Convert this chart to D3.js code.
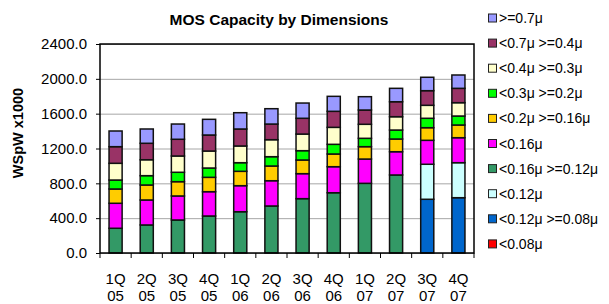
<!DOCTYPE html>
<html>
<head>
<meta charset="utf-8">
<script src="https://cdn.jsdelivr.net/npm/d3@7"></script>
<style>
    body { margin: 0; background: #fff; }
    svg { font-family: "Liberation Sans", Arial, sans-serif; }
    .grid line { stroke: #a6a6a6; stroke-width: 1; }
    .grid path { stroke: none; }
    .bar { stroke: #111; stroke-width: 1.5; }
</style>
</head>
<body>
<svg id="grafico" width="609" height="304"></svg>
<script>
// categorias (trimestre / ano)
const quarters = ['1Q', '2Q', '3Q', '4Q', '1Q', '2Q', '3Q', '4Q', '1Q', '2Q', '3Q', '4Q'];
const years = ['05', '05', '05', '05', '06', '06', '06', '06', '07', '07', '07', '07'];

// series, de baixo para cima (WSpW x1000)
const lt008 = [0, 0, 0, 0, 0, 0, 0, 0, 0, 0, 0, 0];
const lt012ge008 = [0, 0, 0, 0, 0, 0, 0, 0, 0, 0, 617, 635];
const lt012 = [0, 0, 0, 0, 0, 0, 0, 0, 0, 0, 402, 402];
const lt016ge012 = [284, 322, 379, 425, 474, 540, 624, 692, 800, 896, 0, 0];
const lt016 = [287, 287, 276, 279, 299, 290, 287, 299, 279, 267, 275, 287];
const lt02ge016 = [164, 172, 164, 165, 165, 169, 157, 146, 142, 146, 145, 146];
const lt03ge02 = [103, 107, 108, 107, 99, 107, 107, 111, 96, 103, 108, 103];
const lt04ge03 = [192, 183, 187, 195, 192, 195, 191, 195, 161, 153, 149, 153];
const lt07ge04 = [191, 189, 192, 184, 195, 180, 181, 184, 164, 172, 168, 165];
const ge07 = [180, 164, 175, 180, 187, 176, 175, 172, 153, 154, 154, 153];

const seriesNames = ['<0.08μ', '<0.12μ >=0.08μ', '<0.12μ', '<0.16μ >=0.12μ', '<0.16μ',
    '<0.2μ >=0.16μ', '<0.3μ >=0.2μ', '<0.4μ >=0.3μ', '<0.7μ >=0.4μ', '>=0.7μ'];
const seriesValues = [lt008, lt012ge008, lt012, lt016ge012, lt016,
    lt02ge016, lt03ge02, lt04ge03, lt07ge04, ge07];
const seriesColors = ['#ff0000', '#0066cc', '#ccffff', '#339966', '#ff00ff',
    '#ffcc00', '#00ff00', '#ffffcc', '#993366', '#9999ff'];

const yTicks = [0, 400, 800, 1200, 1600, 2000, 2400];

function grafico_mos(div) {
    const svg = d3.select(div);

    const plot = { left: 100, right: 474, top: 44, bottom: 253 };
    const width = plot.right - plot.left;
    const height = plot.bottom - plot.top;

    const chart = svg.append('g')
        .attr('transform', `translate(${plot.left}, ${plot.top})`);

    // tabela para o d3.stack
    const dados = quarters.map((q, i) => {
        const row = { idx: i };
        seriesNames.forEach((s, k) => { row[s] = seriesValues[k][i]; });
        return row;
    });

    const xScale = d3.scaleBand()
        .range([0, width])
        .domain(dados.map((d) => d.idx))
        .paddingInner(0.58)
        .paddingOuter(0.29);

    const xBand = d3.scaleBand()
        .range([0, width])
        .domain(dados.map((d) => d.idx));

    const yScale = d3.scaleLinear()
        .range([height, 0])
        .domain([0, 2400]);

    /*grid*/
    chart.append('g')
        .attr('class', 'grid')
        .call(d3.axisLeft(yScale)
            .tickValues(yTicks)
            .tickSize(-width)
            .tickFormat(''));

    const stack = d3.stack().keys(seriesNames);
    const camadas = stack(dados);

    const grupos = chart.selectAll('.serie')
        .data(camadas)
        .enter()
        .append('g')
        .attr('class', 'serie')
        .attr('fill', (d, k) => seriesColors[k]);

    grupos.selectAll('rect')
        .data((d) => d.filter((p) => p[1] - p[0] > 0))
        .enter()
        .append('rect')
        .attr('class', 'bar')
        .attr('x', (p) => xScale(p.data.idx))
        .attr('y', (p) => yScale(p[1]))
        .attr('height', (p) => yScale(p[0]) - yScale(p[1]))
        .attr('width', xScale.bandwidth());

    /*eixo y*/
    const yAxis = chart.append('g')
        .call(d3.axisLeft(yScale)
            .tickValues(yTicks)
            .tickSize(4)
            .tickPadding(9)
            .tickFormat(d3.format('.1f')));
    yAxis.select('.domain').remove();
    yAxis.selectAll('line').attr('stroke', '#000');
    yAxis.selectAll('text')
        .attr('font-size', 15)
        .attr('font-family', '"Liberation Sans", Arial, sans-serif')
        .attr('fill', '#000');

    /*eixo x: marcas entre categorias*/
    const xAxis = chart.append('g')
        .attr('transform', `translate(0, ${height})`);
    d3.range(13).forEach((i) => {
        const xx = i < 12 ? xBand(i) : width;
        xAxis.append('line')
            .attr('x1', xx).attr('x2', xx)
            .attr('y1', 0).attr('y2', 5)
            .attr('stroke', '#000');
    });
    const labels = xAxis.selectAll('.xlab')
        .data(dados)
        .enter()
        .append('text')
        .attr('class', 'xlab')
        .attr('text-anchor', 'middle')
        .attr('font-size', 15)
        .attr('x', (d) => xBand(d.idx) + xBand.bandwidth() / 2);
    labels.append('tspan')
        .attr('x', (d) => xBand(d.idx) + xBand.bandwidth() / 2)
        .attr('y', 30.5)
        .text((d) => quarters[d.idx]);
    labels.append('tspan')
        .attr('x', (d) => xBand(d.idx) + xBand.bandwidth() / 2)
        .attr('y', 47.5)
        .text((d) => years[d.idx]);

    /*borda da area*/
    chart.append('rect')
        .attr('width', width)
        .attr('height', height)
        .attr('fill', 'none')
        .attr('stroke', '#000')
        .attr('stroke-width', 1.5);

    /*titulo*/
    svg.append('text')
        .attr('x', 279)
        .attr('y', 25)
        .attr('text-anchor', 'middle')
        .attr('font-size', 15.5)
        .attr('font-weight', 'bold')
        .text('MOS Capacity by Dimensions');

    svg.append('text')
        .attr('transform', 'translate(23, 133) rotate(-90)')
        .attr('text-anchor', 'middle')
        .attr('font-size', 14.5)
        .attr('font-weight', 'bold')
        .text('WSpW x1000');

    /*legenda*/
    const legenda = svg.append('g')
        .attr('transform', 'translate(488, 18)');
    const itens = legenda.selectAll('.leg')
        .data(seriesNames.slice().reverse())
        .enter()
        .append('g')
        .attr('class', 'leg')
        .attr('transform', (d, i) => `translate(0, ${i * 25.1})`);
    itens.append('rect')
        .attr('x', 0.5)
        .attr('y', -4)
        .attr('width', 8)
        .attr('height', 8)
        .attr('stroke', '#222')
        .attr('stroke-width', 1)
        .attr('fill', (d) => seriesColors[seriesNames.indexOf(d)]);
    itens.append('text')
        .attr('x', 11)
        .attr('y', 5)
        .attr('font-size', 14)
        .text((d) => d);
}

grafico_mos('#grafico');
</script>
</body>
</html>
